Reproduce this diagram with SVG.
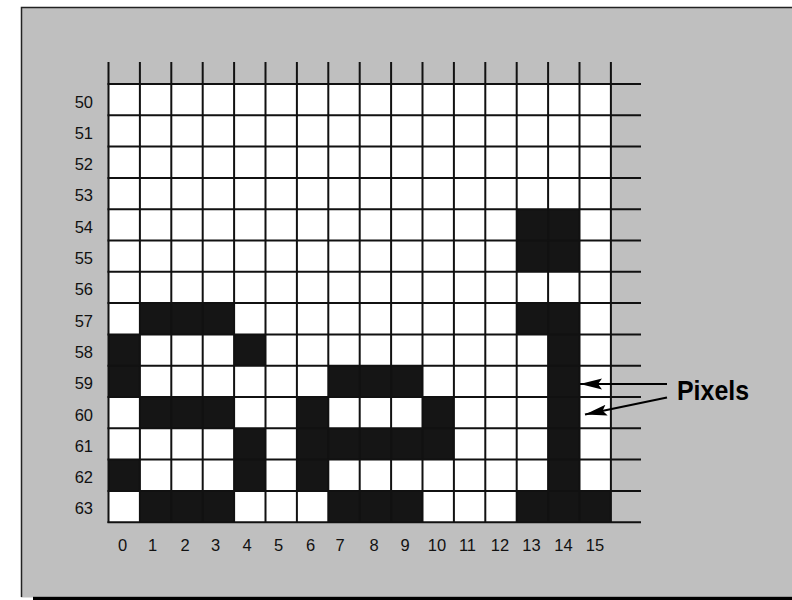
<svg xmlns="http://www.w3.org/2000/svg" width="792" height="600" viewBox="0 0 792 600">
<defs>
<style>
.bg{fill:#bfbfbf}
.on{fill:#151515}
.grid line{stroke:#111;stroke-width:2}
.lbl{font-family:"Liberation Sans",Arial,sans-serif;font-size:16.5px;fill:#111}
.row{text-anchor:end}
.col{text-anchor:middle}
.callout{font-family:"Liberation Sans",Arial,sans-serif;font-weight:bold;font-size:28px;fill:#000}
.arrow{stroke:#000;stroke-width:2.2;fill:none;marker-end:url(#head)}
</style>
<marker id="head" markerUnits="userSpaceOnUse" markerWidth="24" markerHeight="12" viewBox="0 0 24 12" refX="22" refY="6" orient="auto">
<path d="M0,0.5 L22,6 L0,11.5 L4,6 z" fill="#000"/>
</marker>
</defs>
<g id="frame">
<rect class="bg" x="21" y="7.5" width="771" height="590"/>
<path d="M21.5,597 V7.5 H792" fill="none" stroke="#222" stroke-width="1.5"/>
<rect x="33" y="596.8" width="759" height="3.2" fill="#000"/>
</g>
<g id="pixels">
<rect x="108.5" y="84" width="502.4" height="438.2" fill="#fff"/>
<rect class="on" x="516.7" y="209.2" width="62.8" height="62.6"/>
<rect class="on" x="139.9" y="303.1" width="94.2" height="31.3"/>
<rect class="on" x="516.7" y="303.1" width="62.8" height="31.3"/>
<rect class="on" x="548.1" y="334.4" width="31.4" height="156.5"/>
<rect class="on" x="516.7" y="490.9" width="94.2" height="31.3"/>
<rect class="on" x="108.5" y="334.4" width="31.4" height="62.6"/>
<rect class="on" x="234.1" y="334.4" width="31.4" height="31.3"/>
<rect class="on" x="328.3" y="365.7" width="94.2" height="31.3"/>
<rect class="on" x="139.9" y="397" width="94.2" height="31.3"/>
<rect class="on" x="296.9" y="397" width="31.4" height="93.9"/>
<rect class="on" x="422.5" y="397" width="31.4" height="62.6"/>
<rect class="on" x="328.3" y="428.3" width="94.2" height="31.3"/>
<rect class="on" x="234.1" y="428.3" width="31.4" height="62.6"/>
<rect class="on" x="108.5" y="459.6" width="31.4" height="31.3"/>
<rect class="on" x="139.9" y="490.9" width="94.2" height="31.3"/>
<rect class="on" x="328.3" y="490.9" width="94.2" height="31.3"/>
</g>
<g id="grid" class="grid">
<line x1="108.5" y1="62" x2="108.5" y2="523"/>
<line x1="139.9" y1="62" x2="139.9" y2="523"/>
<line x1="171.3" y1="62" x2="171.3" y2="523"/>
<line x1="202.7" y1="62" x2="202.7" y2="523"/>
<line x1="234.1" y1="62" x2="234.1" y2="523"/>
<line x1="265.5" y1="62" x2="265.5" y2="523"/>
<line x1="296.9" y1="62" x2="296.9" y2="523"/>
<line x1="328.3" y1="62" x2="328.3" y2="523"/>
<line x1="359.7" y1="62" x2="359.7" y2="523"/>
<line x1="391.1" y1="62" x2="391.1" y2="523"/>
<line x1="422.5" y1="62" x2="422.5" y2="523"/>
<line x1="453.9" y1="62" x2="453.9" y2="523"/>
<line x1="485.3" y1="62" x2="485.3" y2="523"/>
<line x1="516.7" y1="62" x2="516.7" y2="523"/>
<line x1="548.1" y1="62" x2="548.1" y2="523"/>
<line x1="579.5" y1="62" x2="579.5" y2="523"/>
<line x1="610.9" y1="62" x2="610.9" y2="523"/>
<line x1="107.5" y1="84" x2="641" y2="84"/>
<line x1="107.5" y1="115.3" x2="641" y2="115.3"/>
<line x1="107.5" y1="146.6" x2="641" y2="146.6"/>
<line x1="107.5" y1="177.9" x2="641" y2="177.9"/>
<line x1="107.5" y1="209.2" x2="641" y2="209.2"/>
<line x1="107.5" y1="240.5" x2="641" y2="240.5"/>
<line x1="107.5" y1="271.8" x2="641" y2="271.8"/>
<line x1="107.5" y1="303.1" x2="641" y2="303.1"/>
<line x1="107.5" y1="334.4" x2="641" y2="334.4"/>
<line x1="107.5" y1="365.7" x2="641" y2="365.7"/>
<line x1="107.5" y1="397" x2="641" y2="397"/>
<line x1="107.5" y1="428.3" x2="641" y2="428.3"/>
<line x1="107.5" y1="459.6" x2="641" y2="459.6"/>
<line x1="107.5" y1="490.9" x2="641" y2="490.9"/>
<line x1="107.5" y1="522.2" x2="641" y2="522.2"/>
</g>
<g id="row-labels" class="lbl row">
<text x="93" y="107.5">50</text>
<text x="93" y="138.8">51</text>
<text x="93" y="170.1">52</text>
<text x="93" y="201.4">53</text>
<text x="93" y="232.7">54</text>
<text x="93" y="264">55</text>
<text x="93" y="295.3">56</text>
<text x="93" y="326.6">57</text>
<text x="93" y="357.9">58</text>
<text x="93" y="389.2">59</text>
<text x="93" y="420.5">60</text>
<text x="93" y="451.8">61</text>
<text x="93" y="483.1">62</text>
<text x="93" y="514.4">63</text>
</g>
<g id="col-labels" class="lbl col">
<text x="122.5" y="550.5">0</text>
<text x="152.5" y="550.5">1</text>
<text x="185" y="550.5">2</text>
<text x="215.5" y="550.5">3</text>
<text x="247" y="550.5">4</text>
<text x="278.5" y="550.5">5</text>
<text x="310.5" y="550.5">6</text>
<text x="340" y="550.5">7</text>
<text x="374" y="550.5">8</text>
<text x="405" y="550.5">9</text>
<text x="437" y="550.5">10</text>
<text x="467.5" y="550.5">11</text>
<text x="500" y="550.5">12</text>
<text x="531.5" y="550.5">13</text>
<text x="563.5" y="550.5">14</text>
<text x="595" y="550.5">15</text>
</g>
<g id="callout">
<text class="callout" x="677" y="400" textLength="72" lengthAdjust="spacingAndGlyphs">Pixels</text>
</g>
<g id="connectors">
<line class="arrow" x1="667" y1="384" x2="580" y2="384"/>
<line class="arrow" x1="667" y1="397.5" x2="585" y2="414.5"/>
</g>
</svg>
